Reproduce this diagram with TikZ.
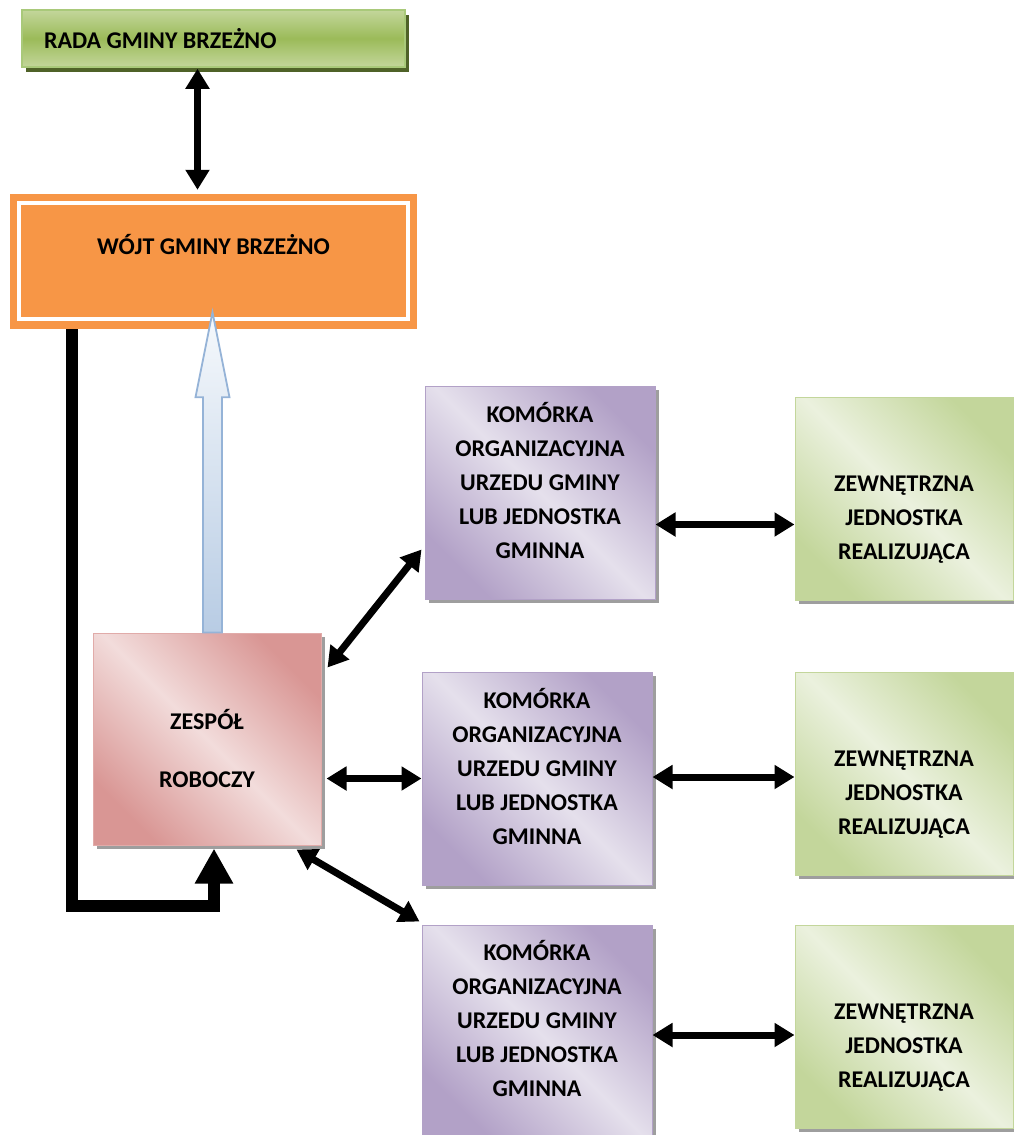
\documentclass[tikz,border=0pt]{standalone}
\usepackage{fontspec}
\setmainfont{Carlito}
\usetikzlibrary{arrows.meta,shadows,calc}

\definecolor{radalight}{HTML}{C3D69B}
\definecolor{radadark}{HTML}{9BBB59}
\definecolor{radaline}{HTML}{A9C97A}
\definecolor{radashadow}{HTML}{4F6228}
\definecolor{wojtorange}{HTML}{F79646}
\definecolor{pinkdark}{HTML}{D99694}
\definecolor{pinklight}{HTML}{F2DCDB}
\definecolor{lilacdark}{HTML}{B2A1C7}
\definecolor{lilaclight}{HTML}{E5E0EC}
\definecolor{greendark}{HTML}{C3D69B}
\definecolor{greenlight}{HTML}{EBF1DE}
\definecolor{bluetop}{HTML}{F6F9FC}
\definecolor{bluebottom}{HTML}{B8CCE4}
\definecolor{blueline}{HTML}{95B3D7}

\pgfdeclarehorizontalshading{diagpink}{100bp}{color(0bp)=(pinkdark); color(25bp)=(pinkdark);
  color(50bp)=(pinklight); color(75bp)=(pinkdark); color(100bp)=(pinkdark)}
\pgfdeclarehorizontalshading{diaglilac}{100bp}{color(0bp)=(lilacdark); color(25bp)=(lilacdark);
  color(50bp)=(lilaclight); color(75bp)=(lilacdark); color(100bp)=(lilacdark)}
\pgfdeclarehorizontalshading{diaggreen}{100bp}{color(0bp)=(greendark); color(25bp)=(greendark);
  color(50bp)=(greenlight); color(75bp)=(greendark); color(100bp)=(greendark)}

\begin{document}
\begin{tikzpicture}[x=1pt, y=-1pt,
        font=\fontsize{24}{34}\selectfont\bfseries,
        box/.style={align=center, inner sep=0pt},
        shade/.style={drop shadow={shadow xshift=4pt, shadow yshift=-4pt,
                      fill=black!38, opacity=1}},
        radabox/.style={box, draw=radaline, line width=1.5pt,
                        top color=radalight, bottom color=radalight, middle color=radadark,
                        minimum width=383pt, minimum height=57pt,
                        text width=339pt, align=flush left, inner xsep=22pt,
                        drop shadow={shadow xshift=4pt, shadow yshift=-5pt,
                                     fill=radashadow, opacity=1}},
        wojtbox/.style={box, fill=wojtorange, minimum width=407pt, minimum height=135pt},
        zespbox/.style={box, shade, shading=diagpink, shading angle=45,
                        draw=pinkdark!80, line width=1pt,
                        minimum width=228pt, minimum height=212pt},
        kombox/.style={box, shade, shading=diaglilac, shading angle=45,
                       draw=lilacdark, line width=1pt,
                       minimum width=230pt, minimum height=213pt},
        zewbox/.style={box, shade, shading=diaggreen, shading angle=45,
                       draw=greendark, line width=1pt,
                       minimum width=218pt, minimum height=203pt},
        dbl/.style={{Triangle[length=20pt,width=23pt]}-{Triangle[length=20pt,width=23pt]},
                    line width=7pt},
        elbow/.style={-{Triangle[length=35pt,width=36pt]}, line width=12pt},
        hollow/.style={draw=blueline, line width=1.8pt, top color=bluetop, bottom color=bluebottom}
      ]
        \useasboundingbox (0,0) rectangle (1013,1135);

        \node[radabox] (rada) at (213.5,38.5) {RADA GMINY BRZEŻNO};
        \node[wojtbox] (wojt) at (213.5,261.5) {WÓJT GMINY BRZEŻNO\\ \mbox{}};
        \draw[white, line width=3.5pt] ($(wojt.south west)+(9,-10)$)
          rectangle ($(wojt.north east)+(-9,9)$);

        \node[zespbox] (zespol) at (207,739)
          {\mbox{}\\[6pt]ZESPÓŁ\\[24pt]ROBOCZY};

        \node[kombox] (kom1) at (540,492.5)
          {KOMÓRKA\\ORGANIZACYJNA\\URZEDU GMINY\\LUB JEDNOSTKA\\GMINNA\\[-10pt]\mbox{}};
        \node[kombox] (kom2) at (537,778.5)
          {KOMÓRKA\\ORGANIZACYJNA\\URZEDU GMINY\\LUB JEDNOSTKA\\GMINNA\\[-10pt]\mbox{}};
        \node[kombox, minimum height=210pt] (kom3) at (537,1030)
          {KOMÓRKA\\ORGANIZACYJNA\\URZEDU GMINY\\LUB JEDNOSTKA\\GMINNA\\[-10pt]\mbox{}};

        \node[zewbox] (zew1) at (904,498.5)
          {\mbox{}\\[23pt]ZEWNĘTRZNA\\JEDNOSTKA\\REALIZUJĄCA};
        \node[zewbox] (zew2) at (904,773.5)
          {\mbox{}\\[23pt]ZEWNĘTRZNA\\JEDNOSTKA\\REALIZUJĄCA};
        \node[zewbox] (zew3) at (904,1026.5)
          {\mbox{}\\[23pt]ZEWNĘTRZNA\\JEDNOSTKA\\REALIZUJĄCA};

        \draw[dbl] ($(rada.south)+(-16,1)$) -- ($(wojt.north)+(-16,-4)$);

        \coordinate (tip) at ($(wojt.south)+(-1,-17)$);
        \draw[hollow] ($(tip |- zespol.north)+(-9.5,0)$) -- ($(tip)+(-9.5,85)$)
          -- ($(tip)+(-17,85)$) -- (tip) -- ($(tip)+(17,85)$) -- ($(tip)+(9.5,85)$)
          -- ($(tip |- zespol.north)+(9.5,0)$) -- cycle;

        \draw[elbow] ($(wojt.south west)+(62,0)$) |- ($(zespol.south)+(7,60)$)
          -- ($(zespol.south)+(7,3)$);

        \draw[dbl] ($(zespol.north east)+(6,35)$) -- ($(kom1.south west)+(-3,-50)$);
        \draw[dbl] ($(zespol.east |- kom2.west)+(5,0)$) -- (kom2.west);
        \draw[dbl] ($(zespol.south east)+(-25,4)$) -- ($(kom3.north west)+(-2,-3)$);

        \draw[dbl] ($(kom1.east)+(0,32)$) coordinate (r1) -- (r1 -| zew1.west);
        \draw[dbl] ($(kom2.east)+(0,-1.5)$) coordinate (r2) -- (r2 -| zew2.west);
        \draw[dbl] ($(kom3.east)+(0,5)$) coordinate (r3) -- (r3 -| zew3.west);
      \end{tikzpicture}
\end{document}
